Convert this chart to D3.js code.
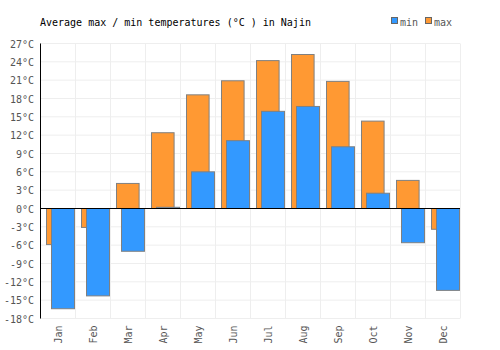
<!DOCTYPE html>
<html>
<head>
<meta charset="utf-8">
<script src="https://cdn.jsdelivr.net/npm/d3@7"></script>
<style>
    body { margin: 0; background: #fff; }
    text { font-family: 'DejaVu Sans Mono', monospace; }
</style>
</head>
<body>
<div id="chart"></div>
<script>
// Monthly values
let months = ['Jan', 'Feb', 'Mar', 'Apr', 'May', 'Jun', 'Jul', 'Aug', 'Sep', 'Oct', 'Nov', 'Dec'];
let minTemps = [-16.4, -14.3, -7.0, 0.2, 6.0, 11.1, 15.9, 16.7, 10.1, 2.5, -5.6, -13.4];
let maxTemps = [-5.9, -3.1, 4.1, 12.4, 18.6, 20.9, 24.2, 25.2, 20.8, 14.3, 4.6, -3.4];
let yTicks = [27, 24, 21, 18, 15, 12, 9, 6, 3, 0, -3, -6, -9, -12, -15, -18];

let width = 500, height = 350;
let margin = { top: 43.5, right: 40, bottom: 31.5, left: 40 };

let svg = d3.select('#chart').append('svg')
    .attr('width', width)
    .attr('height', height);

let x = d3.scaleBand()
    .range([margin.left, width - margin.right])
    .domain(months);

let y = d3.scaleLinear()
    .range([height - margin.bottom, margin.top])
    .domain([-18, 27]);

// Grid
let grid = svg.append('g').attr('class', 'grid');
grid.selectAll('.hgrid')
    .data(yTicks)
    .enter()
    .append('line')
    .attr('x1', margin.left)
    .attr('x2', width - margin.right)
    .attr('y1', function(d) { return y(d); })
    .attr('y2', function(d) { return y(d); })
    .style('stroke', '#eeeeee');

grid.selectAll('.vgrid')
    .data(months)
    .enter()
    .append('line')
    .attr('x1', function(d) { return x(d) + x.bandwidth() + 0.5; })
    .attr('x2', function(d) { return x(d) + x.bandwidth() + 0.5; })
    .attr('y1', margin.top)
    .attr('y2', height - margin.bottom)
    .style('stroke', '#eeeeee');

// Bars: max behind, min in front
let bw = x.bandwidth();

svg.selectAll('.bar-max')
    .data(months)
    .enter()
    .append('rect')
    .attr('class', 'bar-max')
    .attr('x', function(d) { return x(d) + 6.5; })
    .attr('width', bw * 0.66 - 0.5)
    .attr('y', function(d, i) { return Math.min(y(maxTemps[i]), y(0)); })
    .attr('height', function(d, i) { return Math.abs(y(maxTemps[i]) - y(0)); })
    .style('fill', '#ff9933')
    .style('stroke', '#808080')
    .style('stroke-width', 1);

svg.selectAll('.bar-min')
    .data(months)
    .enter()
    .append('rect')
    .attr('class', 'bar-min')
    .attr('x', function(d) { return x(d) + 11.5; })
    .attr('width', bw - 12)
    .attr('y', function(d, i) { return Math.min(y(minTemps[i]), y(0)); })
    .attr('height', function(d, i) { return Math.abs(y(minTemps[i]) - y(0)); })
    .style('fill', '#3399ff')
    .style('stroke', '#808080')
    .style('stroke-width', 1);

// Zero line and y axis line
svg.append('line')
    .attr('x1', margin.left)
    .attr('x2', width - margin.right)
    .attr('y1', y(0))
    .attr('y2', y(0))
    .style('stroke', '#000')
    .style('stroke-width', 1.2);

svg.append('line')
    .attr('x1', margin.left + 0.5)
    .attr('x2', margin.left + 0.5)
    .attr('y1', margin.top)
    .attr('y2', height - margin.bottom)
    .style('stroke', '#000');

// Y labels
svg.selectAll('.ylabel')
    .data(yTicks)
    .enter()
    .append('text')
    .attr('x', 34)
    .attr('y', function(d) { return y(d) + 4; })
    .attr('text-anchor', 'end')
    .style('font-size', '10px')
    .style('fill', '#555')
    .text(function(d) { return d + '°C'; });

// X labels
svg.selectAll('.xlabel')
    .data(months)
    .enter()
    .append('text')
    .attr('transform', function(d) {
        return 'translate(' + (x(d) + bw / 2 + 4) + ',' + (height - margin.bottom + 7) + ') rotate(-90)';
    })
    .attr('text-anchor', 'end')
    .style('font-size', '10px')
    .style('fill', '#555')
    .text(function(d) { return d; });

// Title
svg.append('text')
    .attr('x', 40)
    .attr('y', 26)
    .style('font-size', '10px')
    .style('fill', '#000')
    .text('Average max / min temperatures (°C ) in Najin');

// Legend
let legend = [{ name: 'min', color: '#3399ff', x: 391 }, { name: 'max', color: '#ff9933', x: 425 }];
let lg = svg.selectAll('.legend')
    .data(legend)
    .enter()
    .append('g');

lg.append('rect')
    .attr('x', function(d) { return d.x + 0.5; })
    .attr('y', 17.5)
    .attr('width', 6)
    .attr('height', 6)
    .style('fill', function(d) { return d.color; })
    .style('stroke', '#666');

lg.append('text')
    .attr('x', function(d) { return d.x + 9; })
    .attr('y', 26)
    .style('font-size', '10px')
    .style('fill', '#555')
    .text(function(d) { return d.name; });
</script>
</body>
</html>
